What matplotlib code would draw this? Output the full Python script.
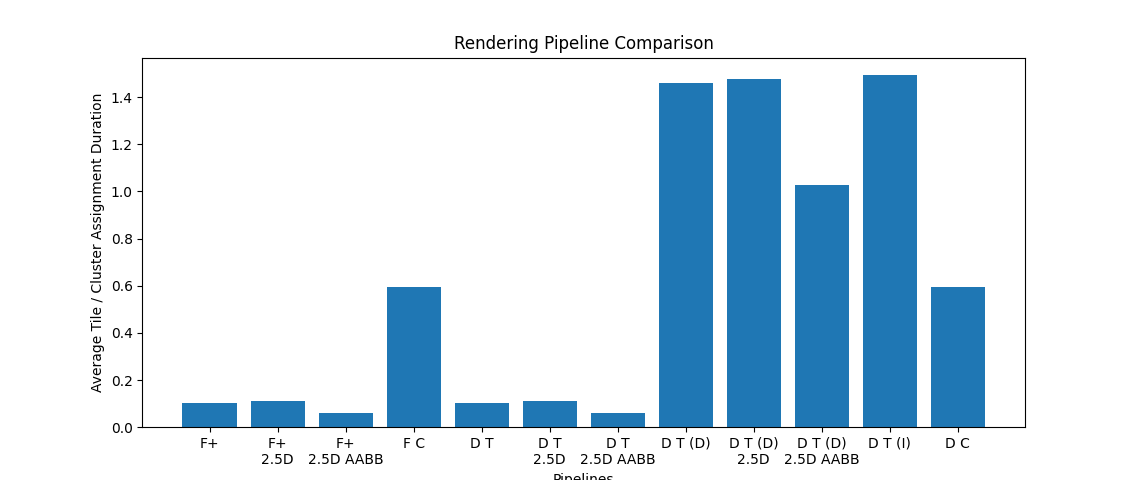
import matplotlib
matplotlib.use("Agg")
import matplotlib.pyplot as plt

# Pipeline names and average tile / cluster assignment durations
pipelines = [
    "F+", "F+\n2.5D", "F+\n2.5D AABB", "F C",
    "D T", "D T\n2.5D", "D T\n2.5D AABB",
    "D T (D)", "D T (D)\n2.5D", "D T (D)\n2.5D AABB",
    "D T (I)", "D C",
]
durations = [
    0.102, 0.110, 0.059, 0.594,
    0.102, 0.110, 0.059,
    1.459, 1.476, 1.027,
    1.493, 0.594,
]

fig, ax = plt.subplots(figsize=(11.39, 4.8), dpi=100)
ax.bar(pipelines, durations)
ax.set_xlabel("Pipelines")
ax.set_ylabel("Average Tile / Cluster Assignment Duration")
ax.set_title("Rendering Pipeline Comparison")

fig.savefig("out.png", dpi=100)
